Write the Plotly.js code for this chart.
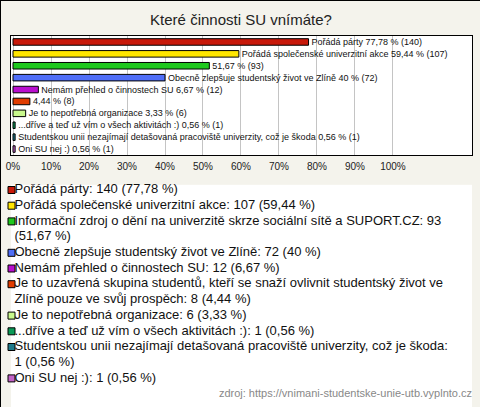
<!DOCTYPE html>
<html>
<head>
<meta charset="utf-8">
<script src="https://cdn.plot.ly/plotly-3.0.1.min.js"></script>
<style>
  html, body { margin: 0; padding: 0; background: #fff; }
  #chart { width: 478px; height: 405px; border: 1px solid #000; }
</style>
</head>
<body>
<div id="chart"></div>
<script>
// ---- data ----
const categories = [
  'Pořádá párty',
  'Pořádá společenské univerzitní akce',
  'Informační zdroj o dění na univerzitě skrze sociální sítě a SUPORT.CZ',
  'Obecně zlepšuje studentský život ve Zlíně',
  'Nemám přehled o činnostech SU',
  'Je to uzavřená skupina studentů, kteří se snaží ovlivnit studentský život ve Zlíně pouze ve svůj prospěch',
  'Je to nepotřebná organizace',
  '...dříve a teď už vím o všech aktivitách :)',
  'Studentskou unii nezajímají detašovaná pracoviště univerzity, což je škoda',
  'Oni SU nej :)'
];
const counts = [140, 107, 93, 72, 12, 8, 6, 1, 1, 1];
const percentValues = [77.78, 59.44, 51.67, 40, 6.67, 4.44, 3.33, 0.56, 0.56, 0.56];
const percentLabels = ['77,78', '59,44', '51,67', '40', '6,67', '4,44', '3,33', '0,56', '0,56', '0,56'];
const barNames = [
  'Pořádá párty',
  'Pořádá společenské univerzitní akce',
  '',
  'Obecně zlepšuje studentský život ve Zlíně',
  'Nemám přehled o činnostech SU',
  '',
  'Je to nepotřebná organizace',
  '...dříve a teď už vím o všech aktivitách :)',
  'Studentskou unii nezajímají detašovaná pracoviště univerzity, což je škoda',
  'Oni SU nej :)'
];
const colors = ['#c8190a', '#ffe600', '#1ec81e', '#4f6ef7', '#b90fce', '#e03c00', '#c8f88c', '#0a9a57', '#1f7a8a', '#c262c8'];
const tickValues = [0, 10, 20, 30, 40, 50, 60, 70, 80, 90, 100];
const tickLabels = ['0%', '10%', '20%', '30%', '40%', '50%', '60%', '70%', '80%', '90%', '100%'];
const titleText = 'Které činnosti SU vnímáte?';
const sourceText = 'zdroj: https://vnimani-studentske-unie-utb.vyplnto.cz';

// ---- layout constants ----
const W = 480, H = 407;
const M = { l: 10, r: 9, t: 35, b: 0 };
const plotBottomPx = 154;
const paperH = H - M.t - M.b;
const paperW = W - M.l - M.r;
const barDomainBottom = (H - M.b - plotBottomPx) / paperH;
const legDomainTop = 0.6;
const legTopPx = H - M.b - legDomainTop * paperH;
const firstLinePx = 189, lineStep = 15.7;
const legRangeTop = -(firstLinePx - legTopPx) / lineStep;
const legRangeBottom = (H - M.b - firstLinePx) / lineStep;
const legendFont = "13px 'Liberation Sans'";
const legendMaxWidth = 440;

// ---- bar labels ----
const barText = categories.map((c, i) =>
  (barNames[i] ? barNames[i] + ' ' : '') + percentLabels[i] + ' % (' + counts[i] + ')');

// ---- legend lines (wrapped) ----
const cv = document.createElement('canvas').getContext('2d');
cv.font = legendFont;
function wrap(str) {
  const words = str.split(' ');
  const lines = [];
  let cur = '';
  words.forEach(w => {
    const test = cur ? cur + ' ' + w : w;
    if (cv.measureText(test).width > legendMaxWidth && cur) { lines.push(cur); cur = w; }
    else cur = test;
  });
  if (cur) lines.push(cur);
  return lines;
}
const legLineText = [], legLineY = [], legMarkY = [];
let ln = 0;
categories.forEach((c, i) => {
  const lines = wrap(c + ': ' + counts[i] + ' (' + percentLabels[i] + ' %)');
  legMarkY.push(ln);
  lines.forEach(l => { legLineText.push(l); legLineY.push(ln); ln++; });
});

const traces = [
  {
    type: 'bar', orientation: 'h',
    y: categories, x: percentValues,
    marker: { color: colors, line: { color: '#000', width: 1 } },
    width: 0.55,
    text: barText, textposition: 'outside', constraintext: 'none', cliponaxis: false,
    textfont: { family: 'Liberation Sans', size: 9, color: '#111' },
    hoverinfo: 'none', showlegend: false
  },
  {
    type: 'scatter', mode: 'markers', xaxis: 'x2', yaxis: 'y2',
    x: legMarkY.map(() => 0.5), y: legMarkY,
    marker: { symbol: 'square', size: 7, color: colors, line: { color: '#000', width: 1 } },
    cliponaxis: false, hoverinfo: 'none', showlegend: false
  },
  {
    type: 'scatter', mode: 'text', xaxis: 'x2', yaxis: 'y2',
    x: legLineY.map(() => 3.5), y: legLineY, text: legLineText,
    textposition: 'middle right',
    textfont: { family: 'Liberation Sans', size: 13, color: '#111' },
    cliponaxis: false, hoverinfo: 'none', showlegend: false
  },
  {
    type: 'scatter', mode: 'text', xaxis: 'x2', yaxis: 'y2',
    x: [paperW], y: [ln], text: [sourceText],
    textposition: 'middle left',
    textfont: { family: 'Liberation Sans', size: 11, color: '#888' },
    cliponaxis: false, hoverinfo: 'none', showlegend: false
  }
];

const layout = {
  width: W, height: H,
  margin: M,
  paper_bgcolor: '#f4f3ec',
  plot_bgcolor: '#ffffff',
  title: {
    text: titleText, x: 0.5, xref: 'container', xanchor: 'center',
    y: 1 - 19 / H, yref: 'container', yanchor: 'middle',
    font: { family: 'Liberation Sans', size: 15, color: '#222' }
  },
  xaxis: {
    domain: [0, 1], anchor: 'y',
    range: [-0.53, 120.8], tickvals: tickValues, ticktext: tickLabels,
    showgrid: true, gridcolor: '#c4c4c4', gridwidth: 1, zeroline: false,
    showline: true, mirror: true, linecolor: '#000', linewidth: 1,
    ticks: 'outside', ticklen: 2, tickcolor: 'rgba(0,0,0,0)',
    tickfont: { family: 'Liberation Sans', size: 10, color: '#222' }
  },
  yaxis: {
    domain: [barDomainBottom, 1], anchor: 'x',
    type: 'category', categoryorder: 'array', categoryarray: categories,
    autorange: 'reversed', showticklabels: false, showgrid: false,
    showline: true, mirror: true, linecolor: '#000', linewidth: 1, zeroline: false
  },
  xaxis2: {
    domain: [0, 1], anchor: 'y2', range: [0, paperW], visible: false
  },
  yaxis2: {
    domain: [0, legDomainTop], anchor: 'x2', range: [legRangeBottom, legRangeTop], visible: false
  },
  bargap: 0.45,
  showlegend: false
};

Plotly.newPlot('chart', traces, layout, { displayModeBar: false, staticPlot: true });
</script>
</body>
</html>
